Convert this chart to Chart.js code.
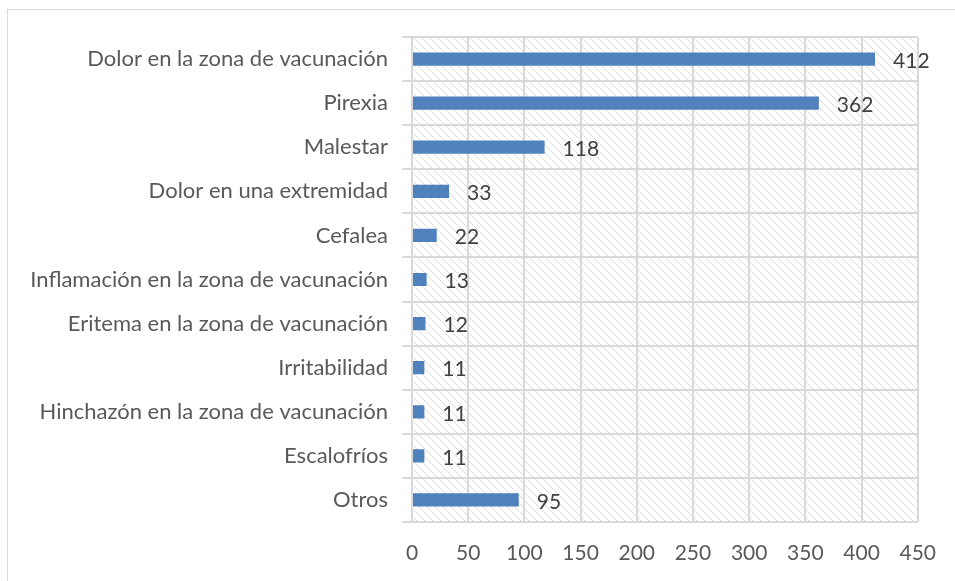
<!DOCTYPE html>
<html>
<head>
<meta charset="utf-8">
<script src="https://cdn.jsdelivr.net/npm/chart.js@4/dist/chart.umd.min.js"></script>
<style>
  html, body { margin: 0; padding: 0; background: #fff; }
  #wrap { position: relative; width: 955px; height: 581px; overflow: hidden; }
  #frame { position: absolute; left: 7px; top: 9px; width: 1000px; height: 700px; border: 1px solid #d9d9d9; box-sizing: border-box; }
  canvas { position: absolute; left: 0; top: 0; }
</style>
</head>
<body>
<div id="wrap">
  <div id="frame"></div>
  <canvas id="c" width="955" height="581"></canvas>
</div>
<script>
const categories = [
  "Dolor en la zona de vacunación",
  "Pirexia",
  "Malestar",
  "Dolor en una extremidad",
  "Cefalea",
  "Inflamación en la zona de vacunación",
  "Eritema en la zona de vacunación",
  "Irritabilidad",
  "Hinchazón en la zona de vacunación",
  "Escalofríos",
  "Otros"
];
const values = [412, 362, 118, 33, 22, 13, 12, 11, 11, 11, 95];
const xTicks = [0, 50, 100, 150, 200, 250, 300, 350, 400, 450];

const FONT = 'Lato, "Open Sans", sans-serif';

function makePattern() {
  const p = document.createElement('canvas');
  p.width = 8; p.height = 8;
  const g = p.getContext('2d');
  g.fillStyle = '#ffffff';
  g.fillRect(0, 0, 8, 8);
  for (let i = 0; i < 8; i++) {
    g.fillStyle = (i % 2 === 0) ? '#d2d2d2' : '#e6e6e6';
    g.fillRect(i, i, 1, 1);
  }
  return p;
}

const hatchPlugin = {
  id: 'hatch',
  beforeDraw(chart) {
    const { ctx, chartArea: a } = chart;
    ctx.save();
    ctx.fillStyle = ctx.createPattern(makePattern(), 'repeat');
    ctx.fillRect(a.left, a.top, a.right - a.left, a.bottom - a.top);
    ctx.restore();
  }
};

const labelPlugin = {
  id: 'barLabels',
  afterDatasetsDraw(chart) {
    const { ctx } = chart;
    const meta = chart.getDatasetMeta(0);
    ctx.save();
    ctx.font = '21px ' + FONT;
    ctx.fillStyle = '#404040';
    ctx.textAlign = 'left';
    ctx.textBaseline = 'middle';
    meta.data.forEach((bar, i) => {
      ctx.fillText(String(values[i]), bar.x + 18, bar.y + 2);
    });
    ctx.restore();
  }
};

new Chart(document.getElementById('c'), {
  type: 'bar',
  data: {
    labels: categories,
    datasets: [{
      data: values,
      backgroundColor: '#4f81bd',
      borderWidth: 0,
      categoryPercentage: 1,
      barPercentage: 0.30
    }]
  },
  options: {
    indexAxis: 'y',
    responsive: false,
    animation: false,
    layout: { padding: { left: 0, right: 34, top: 37, bottom: 0 } },
    plugins: { legend: { display: false }, tooltip: { enabled: false } },
    scales: {
      x: {
        min: 0, max: 450,
        afterBuildTicks(scale) { scale.ticks = xTicks.map(v => ({ value: v })); },
        afterFit(scale) { scale.height = 59; },
        grid: { color: '#d9d9d9', lineWidth: 2, drawTicks: false },
        border: { display: false },
        ticks: { padding: 19, color: '#595959', font: { family: FONT, size: 21 } }
      },
      y: {
        afterFit(scale) { scale.width = 412; },
        grid: { color: '#d9d9d9', lineWidth: 2, offset: true, tickLength: 10, drawOnChartArea: true },
        border: { display: false },
        ticks: { padding: 14, color: '#595959', font: { family: FONT, size: 22 } }
      }
    }
  },
  plugins: [hatchPlugin, labelPlugin]
});
</script>
</body>
</html>
